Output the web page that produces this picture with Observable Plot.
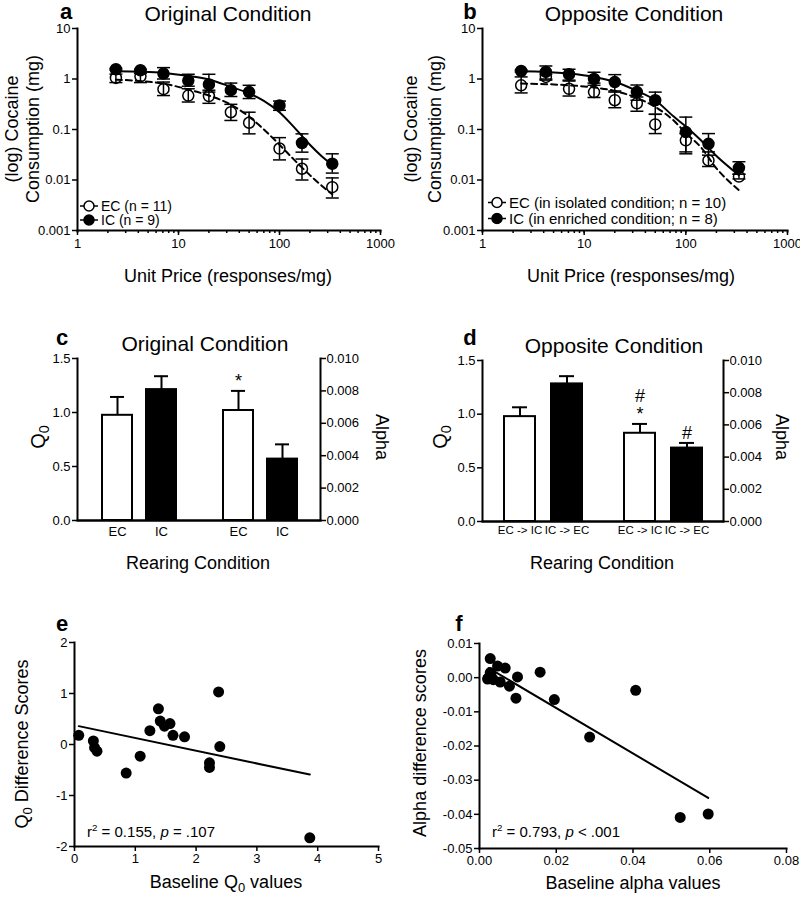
<!DOCTYPE html>
<html><head><meta charset="utf-8">
<script src="https://cdn.jsdelivr.net/npm/d3@7"></script>
<script src="https://cdn.jsdelivr.net/npm/@observablehq/plot@0.6"></script>
<style>
body{margin:0;background:#fff;}
#fig{position:relative;width:800px;height:900px;background:#fff;overflow:hidden;font-family:'Liberation Sans',Arial,Helvetica,sans-serif;color:#000;}
</style></head><body><div id="fig"></div>
<script>
// ---------------- DATA ----------------
// Panels a & b: unit price (responses/mg)
const unitPrice = [2.4, 4.2, 7.1, 12.5, 20, 33, 50, 100, 167, 333];
const priceTicks = [1, 10, 100, 1000];
const priceTickLabels = ["1", "10", "100", "1000"];
const consTicks = [0.001, 0.01, 0.1, 1, 10];
const consTickLabels = ["0.001", "0.01", "0.1", "1", "10"];

// Panel a (Original condition)
const aEC_mean = [1.05, 1.13, 0.63, 0.47, 0.46, 0.22, 0.136, 0.042, 0.0167, 0.0072];
const aEC_hi   = [1.25, 1.30, 0.87, 0.64, 0.60, 0.315, 0.22, 0.069, 0.026, 0.011];
const aEC_lo   = [0.85, 0.85, 0.47, 0.35, 0.33, 0.151, 0.082, 0.025, 0.010, 0.0044];
const aIC_mean = [1.56, 1.49, 1.28, 0.93, 0.78, 0.60, 0.55, 0.30, 0.054, 0.021];
const aIC_hi   = [1.62, 1.56, 1.68, 1.24, 1.24, 0.83, 0.75, 0.366, 0.082, 0.033];
const aIC_lo   = [1.50, 1.43, 1.00, 0.72, 0.55, 0.45, 0.41, 0.24, 0.0356, 0.0137];
const aFitPrice = [2.4, 4.2, 7.1, 12.5, 20, 33, 50, 70, 100, 140, 200, 260, 333];
const aEC_fit   = [0.97, 0.91, 0.81, 0.62, 0.47, 0.31, 0.18, 0.10, 0.05, 0.025, 0.0125, 0.0078, 0.0052];
const aIC_fit   = [1.42, 1.39, 1.32, 1.15, 0.98, 0.70, 0.52, 0.37, 0.22, 0.11, 0.05, 0.03, 0.02];

// Panel b (Opposite condition)
const bEC_mean = [0.75, 1.10, 0.64, 0.55, 0.38, 0.33, 0.126, 0.061, 0.0244, 0.0117];
const bEC_hi   = [1.10, 1.25, 0.91, 0.83, 0.55, 0.44, 0.20, 0.083, 0.036, 0.013];
const bEC_lo   = [0.53, 0.95, 0.46, 0.43, 0.27, 0.23, 0.083, 0.033, 0.0185, 0.0105];
const bIC_mean = [1.44, 1.38, 1.24, 1.00, 0.87, 0.55, 0.38, 0.089, 0.052, 0.0174];
const bIC_hi   = [1.50, 1.81, 1.56, 1.36, 1.22, 0.76, 0.55, 0.176, 0.083, 0.023];
const bIC_lo   = [1.38, 1.00, 0.95, 0.75, 0.58, 0.38, 0.20, 0.036, 0.031, 0.013];
const bFitPrice = [2.4, 4.2, 7.1, 12.5, 20, 33, 50, 76, 100, 140, 200, 333];
const bEC_fit   = [0.81, 0.79, 0.75, 0.68, 0.58, 0.42, 0.28, 0.15, 0.085, 0.045, 0.017, 0.0063];
const bIC_fit   = [1.42, 1.38, 1.28, 1.10, 0.88, 0.58, 0.38, 0.18, 0.115, 0.062, 0.03, 0.0125];

// Panels c & d: demand parameters
const params = ["Q0", "Alpha"];
const cGroups = ["EC", "IC"];
const cQ0 = [0.974, 1.212];
const cQ0_hi = [1.144, 1.336];
const cAlpha = [0.00679, 0.00379];
const cAlpha_hi = [0.0080, 0.0047];
const cSig = ["*", ""];
const dGroups = ["EC -> IC", "IC -> EC"];
const dQ0 = [0.977, 1.282];
const dQ0_hi = [1.064, 1.354];
const dAlpha = [0.00548, 0.00456];
const dAlpha_hi = [0.00606, 0.00488];
const dSig = ["#\n*", "#"];
const q0Ticks = [0, 0.5, 1.0, 1.5];
const q0TickLabels = ["0.0", "0.5", "1.0", "1.5"];
const alphaTicks = [0, 0.002, 0.004, 0.006, 0.008, 0.010];
const alphaTickLabels = ["0.000", "0.002", "0.004", "0.006", "0.008", "0.010"];

// Panel e
const eBaseQ0 = [0.07, 0.31, 0.33, 0.37, 0.85, 1.08, 1.24, 1.38, 1.41, 1.48, 1.57, 1.62, 1.81, 2.22, 2.22, 2.37, 2.39, 3.87];
const eDiffQ0 = [0.18, 0.07, -0.06, -0.13, -0.56, -0.23, 0.27, 0.70, 0.46, 0.36, 0.41, 0.18, 0.15, -0.36, -0.45, 1.03, -0.04, -1.83];
const eFitX = [0.07, 3.87];
const eFitY = [0.36, -0.59];
const eXTicks = [0, 1, 2, 3, 4, 5];
const eXTickLabels = ["0", "1", "2", "3", "4", "5"];
const eYTicks = [-2, -1, 0, 1, 2];
const eYTickLabels = ["-2", "-1", "0", "1", "2"];

// Panel f
const fBaseAlpha = [0.0028, 0.0047, 0.0067, 0.0028, 0.0023, 0.0036, 0.0054, 0.0078, 0.0099, 0.0095, 0.0158, 0.0195, 0.0030, 0.0021, 0.0287, 0.0407, 0.0523, 0.0596];
const fDiffAlpha = [0.0056, 0.0034, 0.0028, 0.0015, -0.0001, -0.0006, -0.0013, -0.0025, 0.0002, -0.0060, 0.0016, -0.0064, 0.0007, -0.0004, -0.0174, -0.0037, -0.0409, -0.0399];
const fFitX = [0.0024, 0.0596];
const fFitY = [0.0028, -0.0352];
const fXTicks = [0, 0.02, 0.04, 0.06, 0.08];
const fXTickLabels = ["0.00", "0.02", "0.04", "0.06", "0.08"];
const fYTicks = [0.01, 0, -0.01, -0.02, -0.03, -0.04, -0.05];
const fYTickLabels = ["0.01", "0.00", "-0.01", "-0.02", "-0.03", "-0.04", "-0.05"];

// ---------------- HELPERS ----------------
const FONT = "'Liberation Sans', Arial, Helvetica, sans-serif";
const fig = document.getElementById("fig");
const st = (size) => ({fontFamily: FONT, fontSize: size + "px", color: "black", background: "transparent", overflow: "visible"});
function addPlot(svg, left, top) {
  svg.style.position = "absolute"; svg.style.left = left + "px"; svg.style.top = top + "px";
  fig.appendChild(svg);
}
function text(html, x, y, o = {}) {
  const d = document.createElement("div");
  d.innerHTML = html;
  const ax = o.align === "left" ? "0" : "-50%";
  d.style.cssText = `position:absolute;left:${x}px;top:${y}px;transform:translate(${ax},-50%) rotate(${o.rot || 0}deg);font-size:${o.size || 18}px;font-weight:${o.bold ? "bold" : "normal"};white-space:nowrap;line-height:1;font-family:${FONT};`;
  fig.appendChild(d);
  return d;
}
const lab = (ticks, labels) => (d) => labels[ticks.indexOf(d)];
const capSymbol = {draw(ctx) { ctx.moveTo(-6.5, 0); ctx.lineTo(6.5, 0); }};
const sub0 = (s) => `<sub style="font-size:0.72em;vertical-align:-0.28em;line-height:0">${s}</sub>`;
const legendSym = (filled) => `<svg width="18" height="12" style="display:block"><line x1="0" x2="18" y1="6" y2="6" stroke="black" stroke-width="1.5"/><circle cx="9" cy="6" r="5" fill="${filled ? "black" : "white"}" stroke="black" stroke-width="1.5"/></svg>`;
function legendRow(filled, label, x, y, size) {
  const d = document.createElement("div");
  d.style.cssText = `position:absolute;left:${x}px;top:${y}px;transform:translate(0,-50%);display:flex;align-items:center;gap:3px;font-size:${size}px;line-height:1;white-space:nowrap;font-family:${FONT};`;
  d.innerHTML = legendSym(filled) + `<span>${label}</span>`;
  fig.appendChild(d);
}

const rowsOf = (mean, lo, hi) => unitPrice.map((p, i) => ({price: p, mean: mean[i], lo: lo[i], hi: hi[i]}));
const fitOf = (xs, ys) => xs.map((p, i) => ({price: p, value: ys[i]}));
const priceMinorTicks = d3.scaleLog().domain([1, 1000]).ticks();

function errMarks(rows) {
  return [
    Plot.ruleX(rows, {x: "price", y1: "lo", y2: "hi", strokeWidth: 1.5}),
    Plot.dot(rows, {x: "price", y: "hi", symbol: capSymbol, stroke: "black", fill: "none", strokeWidth: 1.5}),
    Plot.dot(rows, {x: "price", y: "lo", symbol: capSymbol, stroke: "black", fill: "none", strokeWidth: 1.5})
  ];
}

function demandPlot(ec, ic, ecFit, icFit, ml, mr) {
  return Plot.plot({
    width: 400, height: 300, marginLeft: ml, marginRight: mr, marginTop: 28, marginBottom: 70,
    style: st(13),
    x: {type: "log", domain: [1, 1000], label: null},
    y: {type: "log", domain: [0.001, 10], label: null},
    marks: [
      Plot.frame({anchor: "left", strokeWidth: 2}),
      Plot.frame({anchor: "bottom", strokeWidth: 2}),
      Plot.axisX(priceMinorTicks, {tickSize: 3, tickFormat: () => "", strokeWidth: 1.5, label: null}),
      Plot.axisX(priceTicks, {tickSize: 5, tickPadding: 3, tickFormat: lab(priceTicks, priceTickLabels), strokeWidth: 1.5, label: null}),
      Plot.axisY(consTicks, {tickSize: 5, tickPadding: 2, tickFormat: lab(consTicks, consTickLabels), strokeWidth: 1.5, label: null}),
      Plot.dot(ec, {x: "price", y: "mean", r: 5.5, fill: "white", stroke: "black", strokeWidth: 1.5}),
      Plot.dot(ic, {x: "price", y: "mean", r: 5.5, fill: "black", stroke: "black", strokeWidth: 1.5}),
      Plot.line(ecFit, {x: "price", y: "value", curve: "monotone-x", strokeWidth: 2, strokeDasharray: "6,4"}),
      Plot.line(icFit, {x: "price", y: "value", curve: "monotone-x", strokeWidth: 2}),
      ...errMarks(ec), ...errMarks(ic)
    ]
  });
}

// ---------------- PANEL a ----------------
addPlot(demandPlot(rowsOf(aEC_mean, aEC_lo, aEC_hi), rowsOf(aIC_mean, aIC_lo, aIC_hi),
  fitOf(aFitPrice, aEC_fit), fitOf(aFitPrice, aIC_fit), 77, 20), 0, 0);
text("a", 66, 12, {size: 22, bold: true});
text("Original Condition", 228, 13, {size: 21});
text("(log) Cocaine", 11.5, 129, {rot: -90});
text("Consumption (mg)", 32.5, 129, {rot: -90});
text("Unit Price (responses/mg)", 228, 276, {size: 18});
legendRow(false, "EC (n = 11)", 80, 206, 14);
legendRow(true, "IC (n = 9)", 80, 220, 14);

// ---------------- PANEL b ----------------
addPlot(demandPlot(rowsOf(bEC_mean, bEC_lo, bEC_hi), rowsOf(bIC_mean, bIC_lo, bIC_hi),
  fitOf(bFitPrice, bEC_fit), fitOf(bFitPrice, bIC_fit), 82, 13), 400, 0);
text("b", 470, 12, {size: 22, bold: true});
text("Opposite Condition", 634, 13, {size: 21});
text("(log) Cocaine", 411, 129, {rot: -90});
text("Consumption (mg)", 435, 129, {rot: -90});
text("Unit Price (responses/mg)", 631, 276, {size: 18});
legendRow(false, "EC (in isolated condition; n = 10)", 488, 202, 15);
legendRow(true, "IC (in enriched condition; n = 8)", 488, 218, 15);

// ---------------- PANELS c & d ----------------
function barPanel(groups, q0, q0hi, alpha, alphahi, sig, m, pad, labelSize, tickPad, left, top) {
  const q0Rows = groups.map((g, i) => ({param: "Q0", group: g, value: q0[i], hi: q0hi[i]}));
  const aRows = groups.map((g, i) => ({param: "Alpha", group: g, value: alpha[i], hi: alphahi[i], sig: sig[i]}));
  const dims = {width: 400, height: 300, marginLeft: m.l, marginRight: m.r, marginTop: m.t, marginBottom: m.b};
  const fx = {domain: params, paddingInner: 0, paddingOuter: 0, axis: null, label: null};
  const x = {domain: groups, paddingInner: pad.inner, paddingOuter: pad.outer, label: null};
  const color = {domain: groups, range: ["white", "black"]};
  // base layer: axis lines and Q0 axis
  addPlot(Plot.plot({
    ...dims, style: st(13),
    y: {domain: [0, 1.5], label: null},
    marks: [
      Plot.frame({anchor: "left", strokeWidth: 2}),
      Plot.frame({anchor: "right", strokeWidth: 2}),
      Plot.frame({anchor: "bottom", strokeWidth: 2}),
      Plot.axisY(q0Ticks, {anchor: "left", tickSize: 5, tickPadding: 2, tickFormat: lab(q0Ticks, q0TickLabels), strokeWidth: 1.5, label: null})
    ]
  }), left, top);
  // Q0 bars
  addPlot(Plot.plot({
    ...dims, style: st(labelSize),
    fx, x: {...x, tickSize: 0, tickPadding: tickPad}, color,
    y: {domain: [0, 1.5], axis: null},
    marks: [
      Plot.ruleY(params, {fx: (d) => d, y: 0, strokeWidth: 2}),
      Plot.ruleX(q0Rows, {fx: "param", x: "group", y1: "value", y2: "hi", strokeWidth: 2}),
      Plot.tickY(q0Rows, {fx: "param", x: "group", y: "hi", strokeWidth: 2, insetLeft: 8, insetRight: 8}),
      Plot.barY(q0Rows, {fx: "param", x: "group", y: "value", fill: "group", stroke: "black", strokeWidth: 2})
    ]
  }), left, top);
  // Alpha bars
  addPlot(Plot.plot({
    ...dims, style: st(13),
    fx, x: {...x, axis: null}, color,
    y: {domain: [0, 0.01], axis: null},
    marks: [
      Plot.ruleX(aRows, {fx: "param", x: "group", y1: "value", y2: "hi", strokeWidth: 2}),
      Plot.tickY(aRows, {fx: "param", x: "group", y: "hi", strokeWidth: 2, insetLeft: 8, insetRight: 8}),
      Plot.barY(aRows, {fx: "param", x: "group", y: "value", fill: "group", stroke: "black", strokeWidth: 2}),
      Plot.text(aRows, {fx: "param", x: "group", y: "hi", text: "sig", lineAnchor: "bottom", fontSize: 18, lineHeight: 1, dy: -4}),
      Plot.axisY(alphaTicks, {anchor: "right", tickSize: 5, tickPadding: 1, tickFormat: lab(alphaTicks, alphaTickLabels), strokeWidth: 1.5, label: null})
    ]
  }), left, top);
}

barPanel(cGroups, cQ0, cQ0_hi, cAlpha, cAlpha_hi, cSig, {l: 77, r: 80, t: 58, b: 80}, {inner: 0.322, outer: 0.511}, 13, 6, 0, 300);
text("c", 62, 338, {size: 22, bold: true});
text("Original Condition", 205, 343, {size: 21});
text("Q" + sub0("0"), 38, 437, {size: 20, rot: -90});
text("Alpha", 382, 437, {size: 18, rot: 90});
text("Rearing Condition", 198, 563, {size: 18});

barPanel(dGroups, dQ0, dQ0_hi, dAlpha, dAlpha_hi, dSig, {l: 82, r: 77, t: 60, b: 79}, {inner: 0.347, outer: 0.442}, 11.5, 4, 400, 300);
text("d", 470, 338, {size: 22, bold: true});
text("Opposite Condition", 614, 345, {size: 21});
text("Q" + sub0("0"), 440, 437, {size: 20, rot: -90});
text("Alpha", 782, 437, {size: 18, rot: 90});
text("Rearing Condition", 602, 563, {size: 18});

// ---------------- PANELS e & f ----------------
function scatterPlot(xs, ys, fx, fy, xDom, yDom, xt, xtl, yt, ytl, m) {
  const rows = xs.map((v, i) => ({x: v, y: ys[i]}));
  const fit = fx.map((v, i) => ({x: v, y: fy[i]}));
  return Plot.plot({
    width: 400, height: 300, marginLeft: m.l, marginRight: m.r, marginTop: m.t, marginBottom: m.b,
    style: st(13),
    x: {domain: xDom, label: null}, y: {domain: yDom, label: null},
    marks: [
      Plot.frame({anchor: "left", strokeWidth: 2}),
      Plot.frame({anchor: "bottom", strokeWidth: 2}),
      Plot.axisX(xt, {tickSize: 5, tickPadding: 2, tickFormat: lab(xt, xtl), strokeWidth: 1.5, label: null}),
      Plot.axisY(yt, {tickSize: 5, tickPadding: 2, tickFormat: lab(yt, ytl), strokeWidth: 1.5, label: null}),
      Plot.line(fit, {x: "x", y: "y", strokeWidth: 2}),
      Plot.dot(rows, {x: "x", y: "y", r: 5.5, fill: "black"})
    ]
  });
}
addPlot(scatterPlot(eBaseQ0, eDiffQ0, eFitX, eFitY, [0, 5], [-2, 2], eXTicks, eXTickLabels, eYTicks, eYTickLabels, {l: 74, r: 22, t: 42, b: 54}), 0, 600);
text("e", 62, 624, {size: 22, bold: true});
text("Q" + sub0("0") + " Difference Scores", 22, 744, {size: 18, rot: -90});
text("Baseline Q" + sub0("0") + " values", 226, 882, {size: 18});
text("r<sup style='font-size:0.65em;line-height:0'>2</sup> = 0.155, <i>p</i> = .107", 87, 831, {size: 15, align: "left"});

addPlot(scatterPlot(fBaseAlpha, fDiffAlpha, fFitX, fFitY, [0, 0.08], [-0.05, 0.01], fXTicks, fXTickLabels, fYTicks, fYTickLabels, {l: 79, r: 14, t: 43, b: 52}), 400, 600);
text("f", 459, 624, {size: 22, bold: true});
text("Alpha difference scores", 420, 743, {size: 18, rot: -90});
text("Baseline alpha values", 633, 883, {size: 18});
text("r<sup style='font-size:0.65em;line-height:0'>2</sup> = 0.793, <i>p</i> &lt; .001", 492, 831, {size: 15, align: "left"});
</script>
</body></html>
